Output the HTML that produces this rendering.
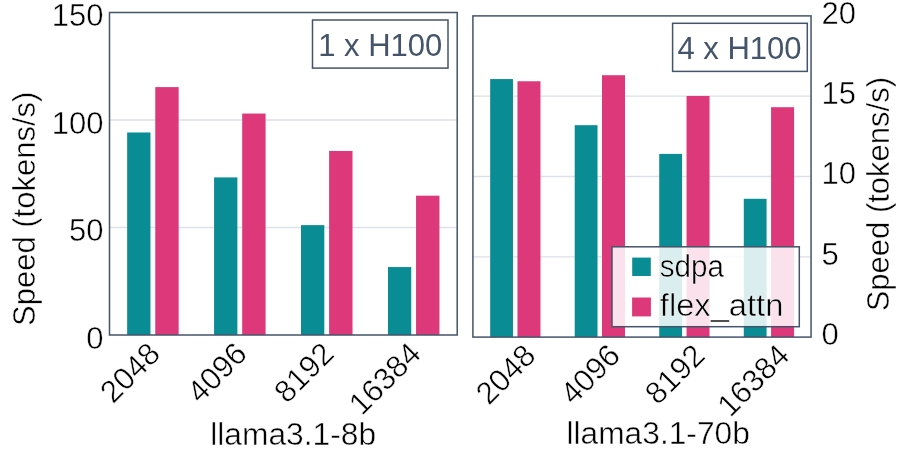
<!DOCTYPE html>
<html><head><meta charset="utf-8"><style>
html,body{margin:0;padding:0;background:#fff;width:905px;height:452px;overflow:hidden}
svg{display:block;will-change:transform}
.t{font-family:"Liberation Sans", sans-serif;font-size:31px;fill:#000;stroke:#fff;stroke-width:0.45px}
.a{font-family:"Liberation Sans", sans-serif;font-size:31px;fill:#44546a}
</style></head><body>
<svg width="905" height="452" viewBox="0 0 905 452">
<line x1="109.50" x2="457.20" y1="227.50" y2="227.50" stroke="#dbe1e8" stroke-width="1.33"/>
<line x1="109.50" x2="457.20" y1="120.00" y2="120.00" stroke="#dbe1e8" stroke-width="1.33"/>
<rect x="127.16" y="132.47" width="23.3" height="202.53" fill="#098c93"/>
<rect x="155.26" y="87.10" width="23.4" height="247.90" fill="#dd387a"/>
<rect x="214.09" y="177.41" width="23.3" height="157.59" fill="#098c93"/>
<rect x="242.19" y="113.55" width="23.4" height="221.45" fill="#dd387a"/>
<rect x="301.01" y="225.13" width="23.3" height="109.87" fill="#098c93"/>
<rect x="329.11" y="150.96" width="23.4" height="184.04" fill="#dd387a"/>
<rect x="387.94" y="267.06" width="23.3" height="67.94" fill="#098c93"/>
<rect x="416.04" y="195.68" width="23.4" height="139.32" fill="#dd387a"/>
<rect x="109.50" y="12.50" width="347.70" height="322.50" fill="none" stroke="#44546a" stroke-width="1.5"/>
<text x="103.4" y="348.90" text-anchor="end" class="t">0</text>
<text x="103.4" y="241.40" text-anchor="end" class="t">50</text>
<text x="103.4" y="133.90" text-anchor="end" class="t">100</text>
<text x="103.4" y="26.40" text-anchor="end" class="t">150</text>
<text x="34.8" y="208.8" text-anchor="middle" class="t" transform="rotate(-90 34.8 208.8)">Speed (tokens/s)</text>
<text x="293.2" y="445.3" text-anchor="middle" class="t" textLength="166" lengthAdjust="spacingAndGlyphs">llama3.1-8b</text>
<rect x="312.5" y="20" width="135.5" height="48.1" fill="#fff" stroke="#44546a" stroke-width="1.5"/>
<text x="318.2" y="56.2" class="a">1 x H100</text>
<line x1="472.90" x2="811.05" y1="256.80" y2="256.80" stroke="#dbe1e8" stroke-width="1.33"/>
<line x1="472.90" x2="811.05" y1="176.50" y2="176.50" stroke="#dbe1e8" stroke-width="1.33"/>
<line x1="472.90" x2="811.05" y1="96.20" y2="96.20" stroke="#dbe1e8" stroke-width="1.33"/>
<rect x="490.17" y="79.07" width="22.8" height="258.03" fill="#098c93"/>
<rect x="517.47" y="81.26" width="23.0" height="255.84" fill="#dd387a"/>
<rect x="574.71" y="125.20" width="22.8" height="211.90" fill="#098c93"/>
<rect x="602.01" y="75.20" width="23.0" height="261.90" fill="#dd387a"/>
<rect x="659.24" y="153.90" width="22.8" height="183.20" fill="#098c93"/>
<rect x="686.54" y="95.95" width="23.0" height="241.15" fill="#dd387a"/>
<rect x="743.78" y="198.80" width="22.8" height="138.30" fill="#098c93"/>
<rect x="771.08" y="107.20" width="23.0" height="229.90" fill="#dd387a"/>
<rect x="472.90" y="15.90" width="338.15" height="321.20" fill="none" stroke="#44546a" stroke-width="1.5"/>
<text x="821.5" y="344.80" class="t">0</text>
<text x="821.5" y="264.50" class="t">5</text>
<text x="821.5" y="184.20" class="t">10</text>
<text x="821.5" y="103.90" class="t">15</text>
<text x="821.5" y="23.60" class="t">20</text>
<text x="888.6" y="194.15" text-anchor="middle" class="t" transform="rotate(-90 888.6 194.15)">Speed (tokens/s)</text>
<text x="658.15" y="443.9" text-anchor="middle" class="t" textLength="183.5" lengthAdjust="spacingAndGlyphs">llama3.1-70b</text>
<rect x="672.6" y="23.3" width="134.7" height="48.1" fill="#fff" stroke="#44546a" stroke-width="1.5"/>
<text x="677.5" y="59.1" class="a">4 x H100</text>
<rect x="612" y="246.8" width="187.3" height="79.9" fill="#fff" fill-opacity="0.85" stroke="#44546a" stroke-width="1.5"/>
<rect x="632.2" y="257.6" width="18.6" height="18.4" fill="#098c93"/>
<rect x="632.1" y="297.5" width="18.8" height="18.9" fill="#dd387a"/>
<text x="659.8" y="276.5" class="t" textLength="64.2" lengthAdjust="spacingAndGlyphs">sdpa</text>
<text x="659.8" y="315.8" class="t" textLength="123.6" lengthAdjust="spacingAndGlyphs">flex_attn</text>
<text x="161.86" y="355.65" text-anchor="end" class="t" transform="rotate(-45 161.86 355.65)">2048</text>
<text x="248.79" y="355.65" text-anchor="end" class="t" transform="rotate(-45 248.79 355.65)">4096</text>
<text x="335.71" y="355.65" text-anchor="end" class="t" transform="rotate(-45 335.71 355.65)">8192</text>
<text x="422.64" y="355.65" text-anchor="end" class="t" transform="rotate(-45 422.64 355.65)">16384</text>
<text x="537.52" y="357.35" text-anchor="end" class="t" transform="rotate(-45 537.52 357.35)">2048</text>
<text x="622.06" y="357.35" text-anchor="end" class="t" transform="rotate(-45 622.06 357.35)">4096</text>
<text x="706.59" y="357.35" text-anchor="end" class="t" transform="rotate(-45 706.59 357.35)">8192</text>
<text x="791.13" y="357.35" text-anchor="end" class="t" transform="rotate(-45 791.13 357.35)">16384</text>
</svg>
</body></html>
